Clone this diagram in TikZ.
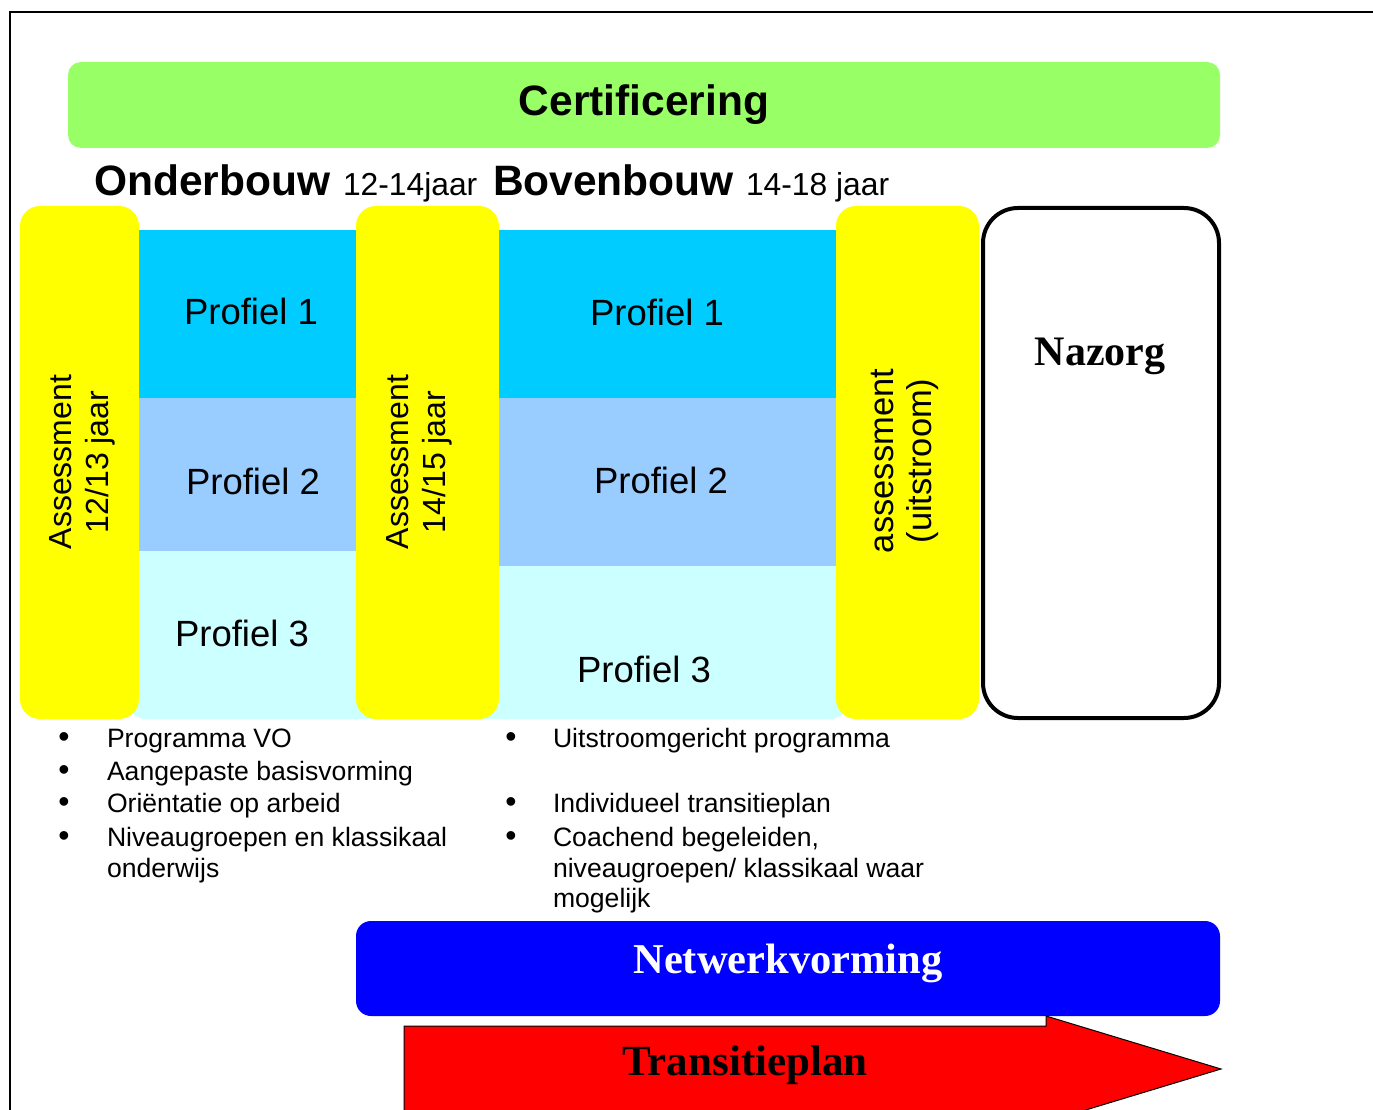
\documentclass[tikz,border=0pt]{standalone}
\usepackage{fontspec}
\setmainfont{Liberation Sans}
\newfontfamily\timesfont{Liberation Serif}
\definecolor{certgreen}{HTML}{99FF66}
\definecolor{yel}{HTML}{FFFF00}
\definecolor{pone}{HTML}{00CCFF}
\definecolor{ptwo}{HTML}{99CCFF}
\definecolor{pthree}{HTML}{CCFFFF}
\definecolor{netblue}{HTML}{0000FF}
\definecolor{arrred}{HTML}{FF0000}
\tikzset{
  txt/.style={inner sep=0pt, outer sep=0pt},
  proftxt/.style={txt, anchor=base, font=\fontsize{36.5}{40}\selectfont},
  asstxt/.style={txt, rotate=90, align=center, font=\fontsize{32}{37}\selectfont},
  bigbold/.style={txt, anchor=base, font=\fontsize{42.5}{48}\selectfont\bfseries},
  serifbold/.style={txt, anchor=base, font=\timesfont\fontsize{42}{48}\selectfont\bfseries},
  itemtxt/.style={txt, anchor=base west, font=\fontsize{26.6}{31}\selectfont},
  bul/.style={txt, anchor=base, font=\fontsize{32}{31}\selectfont},
  yellowbox/.style={fill=yel, rounded corners=20pt},
}
\begin{document}
\begin{tikzpicture}[x=1pt,y=-1pt]
\useasboundingbox (0,0) rectangle (1373,1110);
% outer frame
\draw[line width=2pt] (10,1130) -- (10,12) -- (1390,12);
% certificering
\fill[certgreen, rounded corners=13pt] (68,62) rectangle (1220,148);
\node[bigbold] (cert) at (644,116) {Certificering};
% headers
\node[txt, anchor=base west, font=\fontsize{42.5}{48}\selectfont\bfseries] (onder) at (94,196) {Onderbouw};
\node[txt, anchor=base west, font=\fontsize{31.8}{36}\selectfont] (onderage) at (343,196) {12-14jaar};
\node[txt, anchor=base west, font=\fontsize{42.5}{48}\selectfont\bfseries] (boven) at (493,196) {Bovenbouw};
\node[txt, anchor=base west, font=\fontsize{31.8}{36}\selectfont] (bovenage) at (746,196) {14-18 jaar};
% profile bands
\fill[pthree, rounded corners=18pt] (128,480) rectangle (848,719);
\fill[pone] (130,230) rectangle (365,398);
\fill[ptwo] (130,398) rectangle (365,551);
\fill[pone] (490,230) rectangle (845,398);
\fill[ptwo] (490,398) rectangle (845,566);
% yellow assessment boxes
\fill[yellowbox] (20,206) rectangle (139,719);
\fill[yellowbox] (356,206) rectangle (499,719);
\fill[yellowbox] (836,206) rectangle (979,719);
\node[asstxt] (ass1) at (82,462) {Assessment\\12/13 jaar};
\node[asstxt] (ass2) at (419,462) {Assessment\\14/15 jaar};
\node[asstxt, font=\fontsize{34.5}{38}\selectfont] (ass3) at (905,461) {assessment\\(uitstroom)};
% profiel labels
\node[proftxt] (lp1) at (251,324) {Profiel 1};
\node[proftxt] (lp2) at (253,494) {Profiel 2};
\node[proftxt] (lp3) at (242,646) {Profiel 3};
\node[proftxt] (rp1) at (657,325) {Profiel 1};
\node[proftxt] (rp2) at (661,493) {Profiel 2};
\node[proftxt] (rp3) at (644,682) {Profiel 3};
% nazorg
\draw[line width=4pt, fill=white, rounded corners=35pt] (983,208) rectangle (1219,718);
\node[serifbold] (nazorg) at (1100,365) {Nazorg};
% left bullet list
\node[bul] (lb1) at (64,747) {\textbullet};
\node[itemtxt] (li1) at (107,747) {Programma VO};
\node[bul] (lb2) at (64,780) {\textbullet};
\node[itemtxt] (li2) at (107,780) {Aangepaste basisvorming};
\node[bul] (lb3) at (64,812) {\textbullet};
\node[itemtxt] (li3) at (107,812) {Oriëntatie op arbeid};
\node[bul] (lb4) at (64,846) {\textbullet};
\node[itemtxt] (li4) at (107,846) {Niveaugroepen en klassikaal};
\node[itemtxt] (li4b) at (107,877) {onderwijs};
% right bullet list
\node[bul] (rb1) at (511,747) {\textbullet};
\node[itemtxt] (ri1) at (553,747) {Uitstroomgericht programma};
\node[bul] (rb2) at (511,812) {\textbullet};
\node[itemtxt] (ri2) at (553,812) {Individueel transitieplan};
\node[bul] (rb3) at (511,846) {\textbullet};
\node[itemtxt] (ri3) at (553,846) {Coachend begeleiden,};
\node[itemtxt] (ri3b) at (553,877) {niveaugroepen/ klassikaal waar};
\node[itemtxt] (ri3c) at (553,907) {mogelijk};
% netwerkvorming
\fill[netblue, rounded corners=15pt] (356,921) rectangle (1220,1016);
\node[serifbold, font=\timesfont\fontsize{42.5}{48}\selectfont\bfseries, text=white] (netw) at (788,973) {Netwerkvorming};
% transitieplan arrow
\draw[fill=arrred, line width=1pt] (404,1112) -- (404,1026) -- (1046,1026) -- (1046,1016) -- (1221,1069) -- (1046,1122) -- (1046,1112) -- cycle;
\node[serifbold, font=\timesfont\fontsize{43}{48}\selectfont\bfseries] (trans) at (745,1075) {Transitieplan};
\end{tikzpicture}
\end{document}
